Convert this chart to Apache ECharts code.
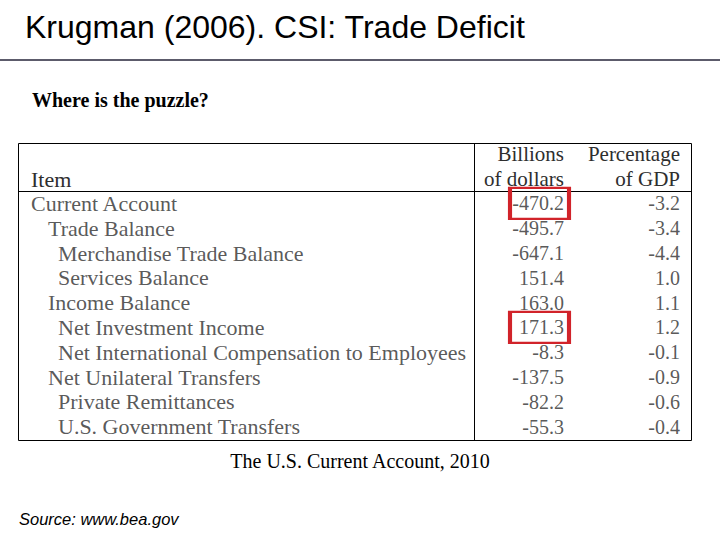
<!DOCTYPE html>
<html>
<head>
<meta charset="utf-8">
<script src="https://cdn.jsdelivr.net/npm/echarts@6/dist/echarts.min.js"></script>
<style>
html,body{margin:0;padding:0;background:#fff;}
#chart{width:720px;height:540px;}
</style>
</head>
<body>
<div id="chart"></div>
<script>
// ---- data ----
const items = [
  'Current Account',
  'Trade Balance',
  'Merchandise Trade Balance',
  'Services Balance',
  'Income Balance',
  'Net Investment Income',
  'Net International Compensation to Employees',
  'Net Unilateral Transfers',
  'Private Remittances',
  'U.S. Government Transfers'
];
const levels = [0, 1, 2, 2, 1, 2, 2, 1, 2, 2];
const billions = [-470.2, -495.7, -647.1, 151.4, 163.0, 171.3, -8.3, -137.5, -82.2, -55.3];
const pctGDP = [-3.2, -3.4, -4.4, 1.0, 1.1, 1.2, -0.1, -0.9, -0.6, -0.4];
const highlighted = ['Current Account', 'Net Investment Income'];
const headerItem = 'Item';
const headerBillions = ['Billions', 'of dollars'];
const headerPct = ['Percentage', 'of GDP'];
const slideTitle = 'Krugman (2006). CSI: Trade Deficit';
const question = 'Where is the puzzle?';
const caption = 'The U.S. Current Account, 2010';
const source = 'Source: www.bea.gov';

// ---- layout ----
const T = {left: 18, top: 143, right: 691, bottom: 440, headLine: 191, colDiv: 474};
const gridTop = 191, gridHeight = 248;
const indentX = [13, 30, 40];          // relative to table left
const billionsRight = 546, pctRight = 662;
const serif = "'Liberation Serif', 'Times New Roman', serif";
const textColor = '#2e2e2e';
const fsItem = 22, fsNum = 20;

const chart = echarts.init(document.getElementById('chart'), null, {renderer: 'svg'});

const itemData = items.map((name, i) => ({value: [indentX[levels[i]], name], label: {formatter: name}}));
const billData = items.map((name, i) => ({value: [billionsRight, name], label: {formatter: billions[i].toFixed(1)}}));
const pctData = items.map((name, i) => ({value: [pctRight, name], label: {formatter: pctGDP[i].toFixed(1)}}));
const boxData = highlighted.map(name => [billionsRight - 24.5, name]);

function textSeries(data, align, size) {
  return {
    type: 'scatter',
    data: data,
    symbolSize: 1,
    itemStyle: {color: 'rgba(0,0,0,0)'},
    silent: true,
    label: {
      show: true,
      position: 'inside',
      align: align,
      verticalAlign: 'middle',
      fontFamily: serif,
      fontSize: size,
      color: textColor
    }
  };
}

const option = {
  backgroundColor: '#fff',
  animation: false,
  grid: {left: T.left, top: gridTop, width: T.right - T.left, height: gridHeight},
  xAxis: {type: 'value', min: 0, max: T.right - T.left, show: false},
  yAxis: {type: 'category', data: items, inverse: true, show: false},
  series: [
    textSeries(itemData, 'left', fsItem),
    textSeries(billData, 'right', fsNum),
    textSeries(pctData, 'right', fsNum),
    {
      type: 'scatter',
      data: boxData,
      symbol: 'rect',
      symbolSize: [59, 31],
      silent: true,
      itemStyle: {color: 'rgba(0,0,0,0)', borderColor: '#d1232a', borderWidth: 3, opacity: 1},
      z: 5
    }
  ],
  graphic: [
    {type: 'text', left: 25, top: 11, style: {text: slideTitle, font: "32px 'Liberation Sans', Arial, sans-serif", fill: '#000'}},
    {type: 'rect', shape: {x: 0, y: 59, width: 720, height: 2}, style: {fill: '#5c5b6b'}},
    {type: 'text', left: 32, top: 90, style: {text: question, font: "bold 20px 'Liberation Serif', serif", fill: '#000'}},
    // table frame
    {type: 'rect', shape: {x: T.left + 0.5, y: T.top + 0.5, width: T.right - T.left, height: T.bottom - T.top}, style: {fill: 'none', stroke: '#000', lineWidth: 1}},
    {type: 'line', shape: {x1: T.left, y1: T.headLine + 0.5, x2: T.right, y2: T.headLine + 0.5}, style: {stroke: '#000', lineWidth: 1}},
    {type: 'line', shape: {x1: T.colDiv + 0.5, y1: T.top, x2: T.colDiv + 0.5, y2: T.bottom}, style: {stroke: '#000', lineWidth: 1}},
    // header
    {type: 'text', x: T.left + indentX[0], y: 179, style: {text: headerItem, font: fsItem + 'px ' + serif, fill: textColor, align: 'left', verticalAlign: 'middle'}},
    {type: 'text', x: T.left + billionsRight, y: 154, style: {text: headerBillions[0], font: '21px ' + serif, fill: textColor, align: 'right', verticalAlign: 'middle'}},
    {type: 'text', x: T.left + billionsRight, y: 179, style: {text: headerBillions[1], font: '21px ' + serif, fill: textColor, align: 'right', verticalAlign: 'middle'}},
    {type: 'text', x: T.left + pctRight, y: 154, style: {text: headerPct[0], font: '21px ' + serif, fill: textColor, align: 'right', verticalAlign: 'middle'}},
    {type: 'text', x: T.left + pctRight, y: 179, style: {text: headerPct[1], font: '21px ' + serif, fill: textColor, align: 'right', verticalAlign: 'middle'}},
    // caption & source
    {type: 'text', x: 360, y: 461, style: {text: caption, font: "20px 'Liberation Serif', serif", fill: '#000', align: 'center', verticalAlign: 'middle'}},
    {type: 'text', x: 19, y: 519, style: {text: source, font: "italic 16.5px 'Liberation Sans', Arial, sans-serif", fill: '#000', align: 'left', verticalAlign: 'middle'}}
  ]
};
chart.setOption(option);
</script>
</body>
</html>
